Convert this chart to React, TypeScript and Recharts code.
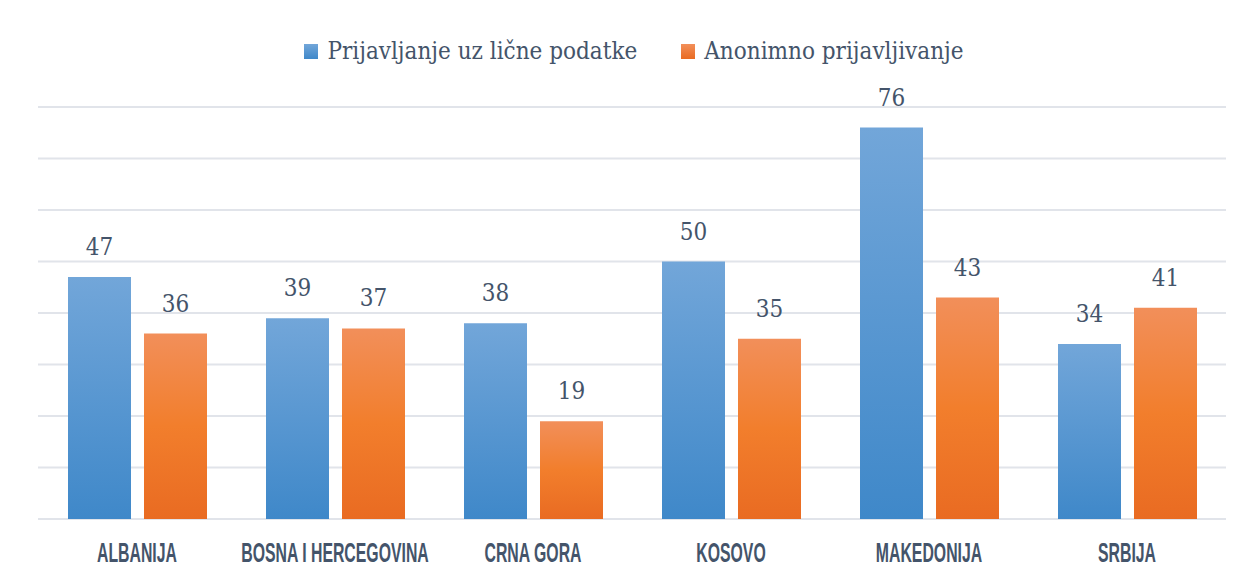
import React from "react";
import { BarChart, Bar, XAxis, YAxis, CartesianGrid, Legend, LabelList } from "recharts";

const categories = ["ALBANIJA", "BOSNA I HERCEGOVINA", "CRNA GORA", "KOSOVO", "MAKEDONIJA", "SRBIJA"];
const licnePodatke = [47, 39, 38, 50, 76, 34];
const anonimno = [36, 37, 19, 35, 43, 41];
const seriesNames = ["Prijavljanje uz lične podatke", "Anonimno prijavljivanje"];
const yTicks = [0, 10, 20, 30, 40, 50, 60, 70, 80];

const data = categories.map((c, i) => ({ name: c, a: licnePodatke[i], b: anonimno[i] }));

const TEXT = "#44546a";
const SERIF = "'DejaVu Serif Condensed', 'DejaVu Serif', serif";

const CategoryTick = (props: any) => {
  const { x, y, payload } = props;
  return (
    <g transform={`translate(${x},${y + 35})`}>
      <text
        transform="scale(0.565,1)"
        textAnchor="middle"
        fill={TEXT}
        fontFamily="Liberation Sans, Arial, sans-serif"
        fontWeight={700}
        fontSize={28}
      >
        {payload.value}
      </text>
    </g>
  );
};

const LegendContent = () => {
  const items = [
    { name: seriesNames[0] },
    { name: seriesNames[1] },
  ];
  return (
    <div style={{ display: "flex", justifyContent: "center", gap: 44, paddingLeft: 4 }}>
      {items.map((it, i) => (
        <div key={i} style={{ display: "flex", alignItems: "center" }}>
          <svg width={14} height={15} style={{ marginRight: 9 }}>
            <defs>
              <linearGradient id={`lg${i}`} x1="0" y1="0" x2="0" y2="1">
                <stop offset="0%" stopColor={i === 0 ? "#72a6d9" : "#f28f5a"} />
                <stop offset="100%" stopColor={i === 0 ? "#3f88c9" : "#e96b22"} />
              </linearGradient>
            </defs>
            <rect width={14} height={15} fill={`url(#lg${i})`} />
          </svg>
          <span style={{ fontFamily: SERIF, fontSize: 24, color: TEXT }}>{it.name}</span>
        </div>
      ))}
    </div>
  );
};

export default function App() {
  return (
    <div style={{ position: "absolute", left: 0, top: 0, background: "#fff" }}>
      <BarChart
        width={1244}
        height={579}
        data={data}
        margin={{ top: 57, right: 18, bottom: 0, left: 38 }}
        barCategoryGap={30}
        barGap={13}
      >
        <defs>
          <linearGradient id="gradBlue" x1="0" y1="0" x2="0" y2="1">
            <stop offset="0%" stopColor="#72a6d9" />
            <stop offset="100%" stopColor="#3f88c9" />
          </linearGradient>
          <linearGradient id="gradOrange" x1="0" y1="0" x2="0" y2="1">
            <stop offset="0%" stopColor="#f28f5a" />
            <stop offset="50%" stopColor="#f27e2c" />
            <stop offset="100%" stopColor="#e96b22" />
          </linearGradient>
        </defs>
        <Legend verticalAlign="top" height={50} content={<LegendContent />} wrapperStyle={{ top: 37 }} />
        <CartesianGrid vertical={false} stroke="#e1e4ea" strokeWidth={2} />
        <XAxis dataKey="name" axisLine={false} tickLine={false} tick={<CategoryTick />} height={60} interval={0} />
        <YAxis hide domain={[0, 80]} ticks={yTicks} />
        <Bar dataKey="a" name={seriesNames[0]} fill="url(#gradBlue)" isAnimationActive={false}>
          <LabelList dataKey="a" position="top" offset={22} fill={TEXT} fontFamily={SERIF} fontSize={24} />
        </Bar>
        <Bar dataKey="b" name={seriesNames[1]} fill="url(#gradOrange)" isAnimationActive={false}>
          <LabelList dataKey="b" position="top" offset={22} fill={TEXT} fontFamily={SERIF} fontSize={24} />
        </Bar>
      </BarChart>
    </div>
  );
}
